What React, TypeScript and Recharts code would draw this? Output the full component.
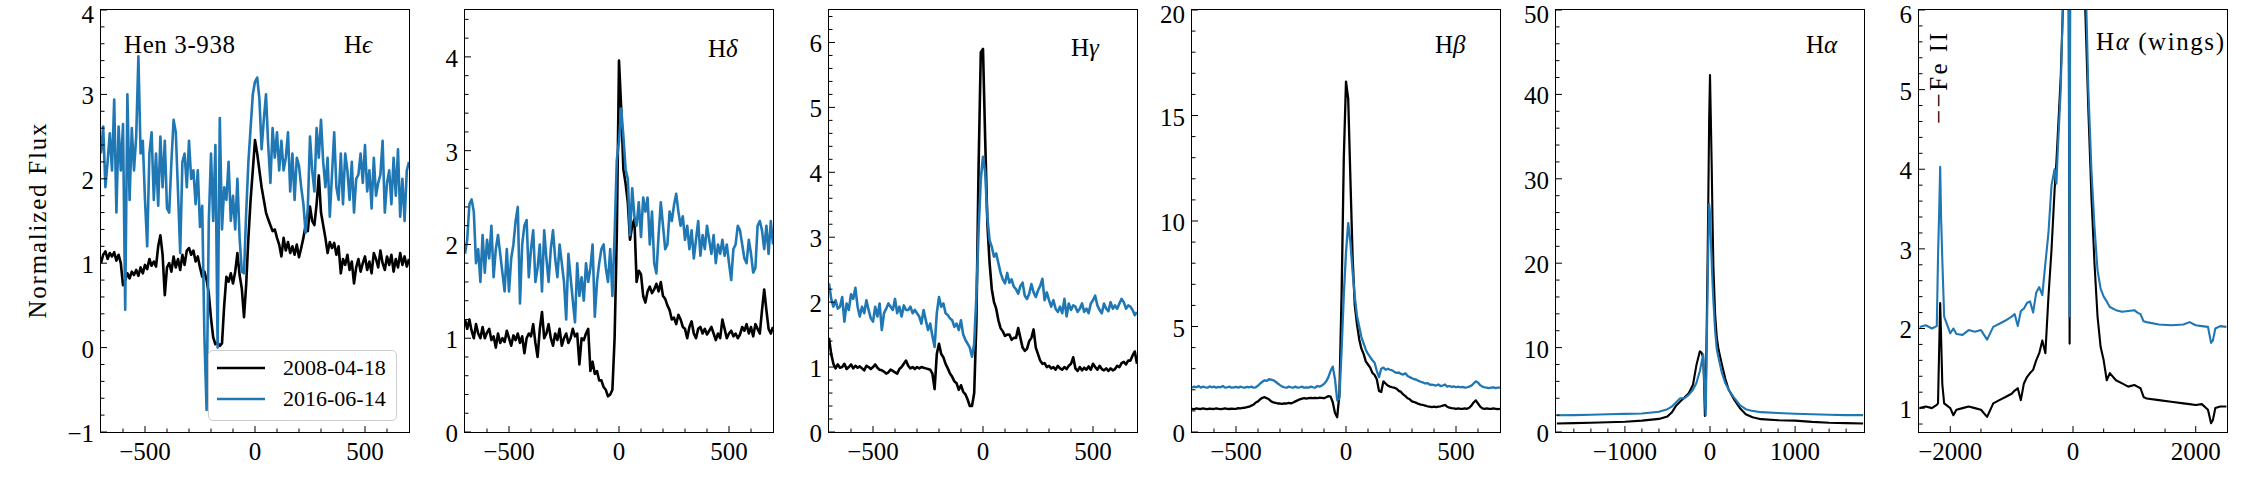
import React from "react";
import { LineChart, Line, XAxis, YAxis, Legend } from "recharts";

const SERIF = '"Liberation Serif", "DejaVu Serif", "Times New Roman", serif';
const BLACK = "#000000";
const BLUE = "#1f77b4";

const PLOT_TOP = 10;
const PLOT_W = 308;
const PLOT_H = 422;
const AXIS_W = 60;
const AXIS_H = 44;
const PAD_TOP = 16;
const PAD_RIGHT = 4;

const dates = ["2008-04-18", "2016-06-14"];

// velocity grid (km/s) shared by the Heps..Hbeta panels
const velocity = [
  -700, -690, -680, -670, -660, -650, -640, -630, -620, -610,
  -600, -590, -580, -570, -560, -550, -540, -530, -520, -510,
  -500, -490, -480, -470, -460, -450, -440, -430, -420, -410,
  -400, -390, -380, -370, -360, -350, -340, -330, -320, -310,
  -300, -290, -280, -270, -260, -250, -240, -230, -220, -210,
  -200, -190, -180, -170, -160, -150, -140, -130, -120, -110,
  -100, -90, -80, -70, -60, -50, -40, -30, -20, -10,
  0, 10, 20, 30, 40, 50, 60, 70, 80, 90,
  100, 110, 120, 130, 140, 150, 160, 170, 180, 190,
  200, 210, 220, 230, 240, 250, 260, 270, 280, 290,
  300, 310, 320, 330, 340, 350, 360, 370, 380, 390,
  400, 410, 420, 430, 440, 450, 460, 470, 480, 490,
  500, 510, 520, 530, 540, 550, 560, 570, 580, 590,
  600, 610, 620, 630, 640, 650, 660, 670, 680, 690,
  700,
];

const hEps2008 = [
  1.0, 1.1, 1.14, 1.05, 1.12, 1.08, 1.13, 1.03, 1.1, 1.0,
  0.74, 0.8, 0.88, 0.82, 0.9, 0.86, 0.92, 0.85, 0.95, 0.88,
  0.98, 0.93, 1.05, 0.97, 1.02, 0.96, 1.2, 1.33, 1.1, 0.62,
  0.95, 1.0, 0.9, 1.08, 0.95, 1.05, 0.92, 1.1, 0.98, 1.15,
  1.18, 1.1, 1.15, 1.02, 1.08, 0.95, 0.84, 0.9, 0.8, 0.64,
  0.35, 0.12, 0.04, 0.06, 0.02, 0.05, 0.5, 0.84, 0.78, 0.88,
  0.76, 0.9, 1.12, 0.86, 0.7, 0.36, 0.75, 1.3, 1.75, 2.1,
  2.46, 2.3, 2.1, 1.9, 1.75, 1.6, 1.52, 1.45, 1.38, 1.4,
  1.3, 1.22, 1.08, 1.3, 1.15, 1.25, 1.12, 1.2, 1.1, 1.22,
  1.07, 1.18, 1.3, 1.45, 1.38, 1.67, 1.5, 1.45, 1.7, 2.04,
  1.6, 1.45, 1.3, 1.12, 1.25, 1.18, 1.24, 1.1, 1.2, 0.88,
  1.05, 0.98, 1.1, 0.92, 1.02, 0.76, 0.95, 1.05, 0.9, 1.0,
  1.08, 0.92, 1.02, 0.88, 1.12, 1.05, 0.95, 1.15, 1.0, 0.92,
  1.08, 0.98, 1.1, 0.9, 1.05, 0.95, 1.12, 0.98, 1.08, 0.96,
  1.05,
];

const hEps2016 = [
  2.3, 2.62, 1.9, 2.2, 2.54, 2.1, 2.94, 1.6, 2.62, 2.1,
  2.65, 0.45, 3.0, 1.75, 2.6, 2.1, 2.5, 3.45, 2.3, 2.45,
  1.75, 1.2, 2.3, 2.55, 1.75, 2.3, 1.68, 2.5, 1.9, 2.45,
  1.65, 1.6, 2.2, 2.7, 2.55, 1.85, 1.12, 2.2, 2.3, 1.9,
  2.45, 2.0, 2.1, 1.7, 2.1, 1.43, 1.68, 0.13, -0.74, 1.5,
  2.3, 1.5, 2.4, 0.0, 2.72, 1.4, 1.9, 1.75, 2.2, 1.5,
  1.8, 1.4, 2.0, 1.3, 0.9, 0.88, 1.6, 2.2, 2.6, 3.0,
  3.15, 3.2, 2.95, 2.35, 2.7, 3.0, 2.4, 1.95, 2.6, 2.25,
  2.55, 2.1, 2.45, 2.1, 2.25, 2.55, 1.85, 2.3, 1.75, 2.25,
  2.15, 1.9, 1.7, 1.36, 1.65, 2.5, 2.1, 1.85, 2.6, 2.25,
  2.7, 2.2, 1.9, 2.25, 1.55, 2.05, 2.55, 1.9, 1.75, 2.3,
  1.7, 2.3, 2.1, 1.75, 2.2, 1.6, 2.0, 2.05, 2.3, 1.95,
  2.4, 1.85, 2.1, 1.65, 2.25, 1.8, 1.95, 2.05, 2.45, 1.6,
  1.95, 2.1, 1.7, 2.25, 1.8, 2.35, 1.55, 2.0, 1.5, 2.1,
  2.2,
];

const hDelta2008 = [
  1.2, 1.1, 1.2, 1.08, 1.0, 1.15, 1.05, 1.0, 1.12, 1.0,
  1.06, 1.1, 0.98, 1.02, 0.9, 1.05, 0.95, 1.0, 0.96, 1.08,
  1.0, 0.92, 1.03, 0.98, 1.05, 0.95, 1.02, 0.84, 1.0, 1.05,
  1.02, 1.15, 0.95, 0.8, 1.1, 1.28, 1.0, 1.05, 1.15, 1.0,
  0.92, 1.05, 0.98, 1.1, 0.92, 1.0, 1.05, 0.95, 1.0, 1.1,
  1.02, 1.05, 0.72, 1.0, 0.98, 1.05, 1.1, 0.65, 0.75, 0.62,
  0.65, 0.55, 0.55, 0.48, 0.45, 0.38, 0.4, 0.45, 1.0, 2.1,
  3.96, 3.45, 2.8, 2.65, 2.45, 2.05, 2.2, 2.27, 1.6, 1.72,
  1.68, 1.45, 1.38, 1.5, 1.55, 1.48, 1.52, 1.58, 1.5, 1.6,
  1.45, 1.42, 1.35, 1.3, 1.2, 1.22, 1.15, 1.25, 1.2, 1.12,
  1.1, 1.0, 1.12, 1.18, 1.05, 1.0, 1.1, 1.12, 1.05, 1.1,
  1.04, 1.08, 1.12, 1.05, 0.98, 1.05, 1.0, 1.2, 1.1, 1.0,
  1.05, 1.08, 1.02, 1.05, 1.0, 1.04, 1.12, 1.08, 1.15, 1.05,
  1.12, 1.02, 1.15, 1.1, 1.05, 1.3, 1.52, 1.3, 1.1, 1.05,
  1.12,
];

const hDelta2016 = [
  1.9, 2.05, 2.43, 2.48, 2.35, 1.8, 1.95, 1.6, 2.1, 1.7,
  2.05, 1.85, 2.2, 1.65, 1.95, 2.1, 1.9, 1.7, 1.5, 1.95,
  1.5, 1.85, 2.0, 2.25, 2.4, 1.37, 2.0, 2.2, 2.26, 1.65,
  1.95, 2.15, 1.6, 1.75, 2.0, 1.5, 2.15, 1.85, 1.6, 1.95,
  2.15, 1.85, 1.65, 2.0, 1.8, 1.6, 1.2, 1.9, 1.65, 1.4,
  1.17, 1.8, 1.45, 1.65, 1.4, 1.8, 1.6, 1.75, 2.0, 1.23,
  1.6, 1.8, 1.95, 2.0, 1.75, 1.6, 1.95, 1.45, 2.1, 2.9,
  3.1, 3.45, 3.15, 2.8, 2.7, 2.1, 2.6, 2.3, 2.2, 2.45,
  2.08, 2.5, 2.35, 2.5, 2.0, 2.35, 1.8, 1.69, 2.1, 2.45,
  2.2, 1.95, 2.0, 2.35, 2.25, 2.42, 2.54, 2.35, 2.2, 2.3,
  2.05, 2.2, 1.95, 2.15, 1.85, 2.05, 2.25, 1.88, 2.1, 1.95,
  2.2, 2.05, 1.9, 2.1, 1.8, 2.0, 1.9, 2.05, 1.88, 2.0,
  1.8, 1.62, 1.95, 2.0, 2.2, 2.15, 2.0, 1.85, 1.8, 2.05,
  1.9, 1.7, 1.75, 2.2, 2.25, 2.15, 1.95, 2.2, 1.9, 2.25,
  2.0,
];

const hGamma2008 = [
  1.45, 1.2, 1.05, 0.98, 1.04, 0.99, 1.0, 1.05, 0.97, 1.0,
  1.04, 0.98, 1.02, 0.99, 1.01, 0.98, 0.95, 1.02, 1.0, 0.97,
  1.0, 1.04, 0.99, 0.96, 0.95, 0.93, 0.9, 0.92, 0.96, 0.94,
  0.92, 0.9, 0.97, 1.0, 1.05, 1.1, 1.02, 0.98, 1.0, 0.97,
  1.0, 0.98, 1.0, 0.99, 0.98, 0.97, 0.96, 0.9, 0.66, 1.2,
  1.36, 1.2, 1.15, 1.05, 0.98, 0.9, 0.85, 0.78, 0.75, 0.65,
  0.72, 0.62, 0.58, 0.5, 0.4, 0.4, 0.6, 1.7, 4.1, 5.85,
  5.9, 4.5, 3.2, 2.6, 2.2, 2.0, 1.9, 1.72, 1.6, 1.55,
  1.48, 1.5, 1.5, 1.42, 1.45, 1.45, 1.6, 1.45, 1.3, 1.25,
  1.28, 1.4, 1.45, 1.58, 1.3, 1.2, 1.1, 1.05, 1.06, 1.0,
  1.02, 0.98, 1.0, 0.96, 1.02, 0.98, 0.96, 1.0, 0.97, 1.02,
  1.05, 1.15, 0.98, 0.94, 1.0, 0.95, 0.99, 0.96, 1.01, 0.96,
  1.05, 1.0, 0.96, 1.02, 0.97, 0.95, 0.98, 0.94, 0.98, 0.95,
  0.97, 1.02, 1.0, 1.06, 1.08, 1.04, 1.1, 1.1, 1.18, 1.24,
  1.05,
];

const hGamma2016 = [
  2.29, 2.05, 1.93, 2.03, 1.9, 1.93, 2.08, 1.7, 1.98, 1.88,
  2.12, 2.05, 2.22, 1.93, 1.78, 1.93, 1.83, 2.03, 1.88, 1.75,
  1.7, 1.93, 1.78, 1.98, 1.57, 1.83, 1.9, 1.98, 1.93, 1.88,
  2.05, 1.83, 1.93, 1.78, 1.95, 1.88, 1.88, 1.93, 1.83, 1.88,
  1.83, 1.78, 1.67, 1.88, 1.72, 1.57, 1.67, 1.48, 1.31, 1.83,
  2.08, 1.93, 1.98, 1.83, 1.8, 1.75, 1.72, 1.62, 1.67, 1.57,
  1.72, 1.5, 1.42, 1.36, 1.3, 1.16, 1.36, 2.1, 3.1, 3.9,
  4.24, 4.0, 3.3, 2.95, 2.85, 2.7, 2.75, 2.6, 2.45, 2.35,
  2.29, 2.45, 2.3, 2.35, 2.24, 2.2, 2.13, 2.25, 2.3, 2.1,
  2.05, 2.13, 2.28, 2.15, 2.08, 2.18, 2.25, 2.36, 2.03, 2.15,
  2.03, 1.93, 2.03, 1.9, 1.85, 1.93, 1.83, 2.05, 1.78, 1.98,
  1.88, 1.95, 1.93, 1.85, 1.9, 1.98, 1.85, 1.9, 1.83, 1.98,
  2.03, 2.1, 1.95, 1.88, 1.83, 1.98, 1.9, 1.86, 2.0, 1.9,
  1.95, 1.9, 1.98, 2.05, 2.0, 1.9, 1.95, 1.93, 1.88, 1.8,
  1.85,
];

const hBeta2008 = [
  1.1, 1.08, 1.12, 1.1, 1.09, 1.12, 1.1, 1.08, 1.11, 1.1,
  1.09, 1.12, 1.1, 1.08, 1.1, 1.12, 1.1, 1.09, 1.11, 1.1,
  1.1, 1.13, 1.12, 1.14, 1.15, 1.18, 1.2, 1.25, 1.3, 1.4,
  1.45, 1.55, 1.62, 1.65, 1.6, 1.55, 1.45, 1.4, 1.38, 1.35,
  1.35, 1.33, 1.36, 1.35, 1.38, 1.36, 1.4, 1.45, 1.5, 1.55,
  1.58, 1.6, 1.58, 1.6, 1.62, 1.6, 1.62, 1.6, 1.63, 1.62,
  1.6, 1.65, 1.7, 1.68, 1.4, 0.9, 0.7, 1.8, 6.5, 13.0,
  16.6, 15.8, 12.0, 8.3, 6.0, 5.1, 4.4, 3.95, 3.7, 3.35,
  3.2, 3.05, 2.8, 2.7, 2.5, 1.95, 1.9, 2.4, 2.3, 2.2,
  2.15, 2.12, 2.1, 2.05, 1.95, 1.9, 1.78, 1.7, 1.6, 1.55,
  1.45, 1.42, 1.38, 1.33, 1.3, 1.28, 1.25, 1.22, 1.2, 1.18,
  1.2, 1.18, 1.2, 1.22, 1.25, 1.28, 1.2, 1.15, 1.13, 1.12,
  1.1, 1.12, 1.1, 1.1, 1.12, 1.1, 1.15, 1.25, 1.4, 1.5,
  1.35, 1.2, 1.12, 1.1, 1.12, 1.1, 1.1, 1.12, 1.1, 1.08,
  1.1,
];

const hBeta2016 = [
  2.1, 2.15, 2.12, 2.18, 2.1, 2.15, 2.12, 2.1, 2.16, 2.12,
  2.15, 2.1, 2.14, 2.12, 2.18, 2.1, 2.12, 2.15, 2.1, 2.12,
  2.14, 2.1, 2.15, 2.12, 2.1, 2.14, 2.12, 2.15, 2.1, 2.12,
  2.2, 2.3, 2.38, 2.45, 2.42, 2.5, 2.48, 2.45, 2.38, 2.3,
  2.22, 2.15, 2.12, 2.1, 2.15, 2.12, 2.1, 2.15, 2.1, 2.12,
  2.15, 2.1, 2.12, 2.1, 2.15, 2.12, 2.1, 2.18, 2.15, 2.2,
  2.28, 2.4, 2.6, 2.9, 3.1, 2.5, 1.5, 1.6, 3.9, 6.5,
  8.5, 9.9, 9.0, 7.6, 6.4, 5.5, 5.0, 4.5, 4.2, 3.9,
  3.7, 3.55, 3.4, 3.28, 2.9, 2.6, 3.0, 3.05, 2.95, 3.0,
  2.95, 2.92, 2.85, 2.8, 2.82, 2.75, 2.72, 2.78, 2.65, 2.6,
  2.55, 2.5, 2.48, 2.42, 2.38, 2.35, 2.3, 2.32, 2.25, 2.24,
  2.22, 2.2, 2.25, 2.18, 2.2, 2.25, 2.15, 2.18, 2.14, 2.16,
  2.12, 2.15, 2.12, 2.14, 2.1, 2.12, 2.15, 2.2, 2.3, 2.4,
  2.35, 2.22, 2.15, 2.12, 2.1, 2.08, 2.1, 2.12, 2.08, 2.1,
  2.1,
];

// H-alpha core
const hAlphaVel = [
  -1800, -1600, -1400, -1200, -1000, -800, -600, -500, -450, -400,
  -350, -300, -250, -200, -160, -120, -100, -80, -70, -60,
  -50, -40, -30, -20, -10, 0, 10, 20, 30, 40,
  60, 80, 100, 140, 180, 220, 280, 350, 420, 500,
  600, 800, 1000, 1200, 1400, 1600, 1800,
];
const hAlpha2008 = [
  1.0, 1.05, 1.1, 1.15, 1.22, 1.35, 1.55, 1.85, 2.3, 3.1,
  3.6, 4.1, 4.6, 5.6, 7.9, 9.55, 9.4, 8.8, 6.0, 1.9,
  4.0, 11.5, 19, 27.5, 37, 42.3, 37, 31.5, 25, 19.6,
  14, 11.2, 9.8, 8.0, 6.3, 5.0, 3.9, 2.85, 2.1, 1.75,
  1.52, 1.4, 1.35, 1.2, 1.1, 1.05, 1.0,
];
const hAlpha2016 = [
  1.98, 2.0, 2.05, 2.1, 2.15, 2.2, 2.4, 2.7, 3.0, 3.5,
  4.0, 4.0, 4.4, 5.0, 5.8, 7.2, 8.2, 9.2, 6.5, 3.5,
  2.0, 9.0, 15.7, 22, 27, 26, 23, 20, 17.5, 15.5,
  12, 9.8, 8.8, 7.0, 5.8, 5.0, 4.1, 3.2, 2.7, 2.5,
  2.35, 2.25, 2.17, 2.1, 2.05, 2.0, 2.0,
];

// H-alpha wings
const wingVel = [
  -2500, -2400, -2300, -2220, -2200, -2180, -2165, -2150, -2130, -2100,
  -2000, -1950, -1900, -1800, -1700, -1600, -1500, -1400, -1300, -1200,
  -1100, -1000, -950, -900, -850, -800, -750, -700, -650, -600,
  -550, -500, -450, -400, -350, -300, -270, -250, -200, -150,
  -100, -70, -55, -40, 0, 50, 100, 150, 200, 250,
  280, 300, 350, 400, 450, 500, 550, 600, 700, 800,
  900, 1000, 1050, 1100, 1150, 1200, 1400, 1600, 1800, 1900,
  2000, 2100, 2200, 2250, 2280, 2320, 2400, 2500,
];
const wing2008 = [
  1.0, 1.02, 1.0, 1.04, 1.06, 1.8, 2.32, 1.9, 1.3, 1.06,
  1.0, 0.91, 0.98, 1.0, 1.02, 1.0, 0.98, 0.89, 1.06, 1.1,
  1.14, 1.18, 1.22, 1.25, 1.1, 1.31, 1.39, 1.44, 1.48, 1.6,
  1.69, 1.85, 1.69, 2.4, 2.99, 3.74, 4.1, 4.4, 5.16, 6.4,
  9.4, 6.0, 1.81, 11.5, 42.3, 16, 9.8, 7.5, 6.0, 4.74,
  4.1, 3.66, 2.82, 2.15, 1.77, 1.6, 1.35, 1.44, 1.35, 1.31,
  1.27, 1.29, 1.27, 1.25, 1.14, 1.12, 1.1, 1.08, 1.06, 1.05,
  1.04, 1.05, 0.98, 0.81, 0.85, 1.0, 1.02, 1.02,
];
const wing2016 = [
  2.02, 2.04, 2.0, 2.03, 2.9, 3.5, 4.03, 3.4, 2.86, 2.15,
  1.94, 2.0, 1.93, 1.92, 1.98, 1.96, 1.98, 1.86, 2.02, 2.06,
  2.1, 2.15, 2.18, 2.03, 2.22, 2.25, 2.32, 2.34, 2.2, 2.45,
  2.52, 2.42, 2.82, 3.2, 3.8, 4.0, 3.82, 4.2, 5.0, 6.5,
  8.2, 6.5, 2.15, 9.0, 26, 13, 8.8, 7.4, 6.6, 5.0,
  4.41, 3.99, 3.28, 2.73, 2.5, 2.4, 2.34, 2.27, 2.23, 2.21,
  2.22, 2.23, 2.2, 2.18, 2.09, 2.08, 2.05, 2.04, 2.05, 2.08,
  2.04, 2.03, 2.02, 1.82, 1.85, 2.0, 2.03, 2.02,
];

// ticks
const velTicks = [-600, -500, -400, -300, -200, -100, 0, 100, 200, 300, 400, 500, 600];
const velMajor = [-500, 0, 500];
const hAlphaTicks = [-1600, -1400, -1200, -1000, -800, -600, -400, -200, 0, 200, 400, 600, 800, 1000, 1200, 1400, 1600];
const hAlphaMajor = [-1000, 0, 1000];
const wingTicks = [-2000, -1500, -1000, -500, 0, 500, 1000, 1500, 2000];
const wingMajor = [-2000, 0, 2000];

const panelTitles = [
  { x: 124, y: 53, text: "Hen 3-938", greek: "", len: 111 },
  { x: 344, y: 53, text: "H", greek: "\u03f5", len: 0 },
  { x: 708, y: 57, text: "H", greek: "\u03b4", len: 0 },
  { x: 1071, y: 56, text: "H", greek: "\u03b3", len: 0 },
  { x: 1435, y: 53, text: "H", greek: "\u03b2", len: 0 },
  { x: 1806, y: 53, text: "H", greek: "\u03b1", len: 0 },
];

const fmt = (v: number) => (v < 0 ? `\u2212${Math.abs(v)}` : `${v}`);
const isMajor = (v: number, majors: number[]) => majors.some((m) => Math.abs(m - v) < 1e-6);
const withMinor = (from: number, to: number, step: number) => {
  const out: number[] = [];
  for (let i = 0; from + i * step <= to + 1e-9; i++) out.push(Math.round((from + i * step) * 1000) / 1000);
  return out;
};
const toPoints = (xs: number[], ys: number[]) => xs.map((v, i) => ({ v, f: ys[i] }));

const makeXTick = (majors: number[]) => (props: any) => {
  const { x, y, payload } = props;
  const major = isMajor(payload.value, majors);
  return (
    <g>
      <line x1={x} x2={x} y1={y} y2={y - (major ? 6 : 3.5)} stroke="#000" strokeWidth={1} />
      {major && (
        <text x={x} y={y + 28} textAnchor="middle" fontFamily={SERIF} fontSize={25} fill="#000">
          {fmt(payload.value)}
        </text>
      )}
    </g>
  );
};

// chart svg starts PAD_TOP above the plot; keep the topmost labels inside the page
const makeYTick = (majors: number[]) => (props: any) => {
  const { x, y, payload } = props;
  const major = isMajor(payload.value, majors);
  const ty = Math.max(y + 10, PAD_TOP + 13);
  return (
    <g>
      <line x1={x} x2={x + (major ? 6 : 3.5)} y1={y} y2={y} stroke="#000" strokeWidth={1} />
      {major && (
        <text x={x - 7} y={ty} textAnchor="end" fontFamily={SERIF} fontSize={25} fill="#000">
          {fmt(payload.value)}
        </text>
      )}
    </g>
  );
};

const renderLegend = (props: any) => {
  const items = props.payload || [];
  return (
    <div
      style={{
        width: 189,
        height: 71,
        boxSizing: "border-box",
        border: "1.5px solid #cccccc",
        borderRadius: 5,
        background: "rgba(255,255,255,0.8)",
        padding: "1px 0 0 8px",
      }}
    >
      {items.map((it: any) => (
        <div key={it.value} style={{ display: "flex", alignItems: "center", height: 31 }}>
          <svg width={48} height={6}>
            <line x1={0} x2={48} y1={3} y2={3} stroke={it.color} strokeWidth={2.7} />
          </svg>
          <span style={{ marginLeft: 18, fontSize: 22, fontFamily: SERIF, lineHeight: "31px", color: "#000" }}>
            {it.value}
          </span>
        </div>
      ))}
    </div>
  );
};

type SeriesDef = { name: string; xs: number[]; ys: number[]; color: string };
type PanelDef = {
  left: number;
  xDomain: [number, number];
  yDomain: [number, number];
  xTicks: number[];
  xMajor: number[];
  yTicks: number[];
  yMajor: number[];
  lineWidth: number;
  series: SeriesDef[];
  legend?: boolean;
};

const panels: PanelDef[] = [
  {
    left: 101, xDomain: [-700, 700], yDomain: [-1, 4], xTicks: velTicks, xMajor: velMajor,
    yTicks: withMinor(-1, 4, 0.2), yMajor: [-1, 0, 1, 2, 3, 4], lineWidth: 2.6, legend: true,
    series: [
      { name: dates[0], xs: velocity, ys: hEps2008, color: BLACK },
      { name: dates[1], xs: velocity, ys: hEps2016, color: BLUE },
    ],
  },
  {
    left: 465, xDomain: [-700, 700], yDomain: [0, 4.5], xTicks: velTicks, xMajor: velMajor,
    yTicks: withMinor(0, 4.4, 0.2), yMajor: [0, 1, 2, 3, 4], lineWidth: 2.6,
    series: [
      { name: dates[0], xs: velocity, ys: hDelta2008, color: BLACK },
      { name: dates[1], xs: velocity, ys: hDelta2016, color: BLUE },
    ],
  },
  {
    left: 829, xDomain: [-700, 700], yDomain: [0, 6.5], xTicks: velTicks, xMajor: velMajor,
    yTicks: withMinor(0, 6.4, 0.2), yMajor: [0, 1, 2, 3, 4, 5, 6], lineWidth: 2.6,
    series: [
      { name: dates[0], xs: velocity, ys: hGamma2008, color: BLACK },
      { name: dates[1], xs: velocity, ys: hGamma2016, color: BLUE },
    ],
  },
  {
    left: 1192, xDomain: [-700, 700], yDomain: [0, 20], xTicks: velTicks, xMajor: velMajor,
    yTicks: withMinor(0, 20, 1), yMajor: [0, 5, 10, 15, 20], lineWidth: 2.3,
    series: [
      { name: dates[0], xs: velocity, ys: hBeta2008, color: BLACK },
      { name: dates[1], xs: velocity, ys: hBeta2016, color: BLUE },
    ],
  },
  {
    left: 1556, xDomain: [-1810, 1810], yDomain: [0, 50], xTicks: hAlphaTicks, xMajor: hAlphaMajor,
    yTicks: withMinor(0, 50, 2), yMajor: [0, 10, 20, 30, 40, 50], lineWidth: 2.1,
    series: [
      { name: dates[0], xs: hAlphaVel, ys: hAlpha2008, color: BLACK },
      { name: dates[1], xs: hAlphaVel, ys: hAlpha2016, color: BLUE },
    ],
  },
  {
    left: 1919, xDomain: [-2510, 2510], yDomain: [0.7, 6], xTicks: wingTicks, xMajor: wingMajor,
    yTicks: withMinor(0.8, 6, 0.2), yMajor: [1, 2, 3, 4, 5, 6], lineWidth: 2.1,
    series: [
      { name: dates[0], xs: wingVel, ys: wing2008, color: BLACK },
      { name: dates[1], xs: wingVel, ys: wing2016, color: BLUE },
    ],
  },
];

function Panel({ p }: { p: PanelDef }) {
  const chartLeft = p.left - AXIS_W;
  const chartTop = PLOT_TOP - PAD_TOP;
  return (
    <>
      <div style={{ position: "absolute", left: chartLeft, top: chartTop }}>
        <LineChart
          width={AXIS_W + PLOT_W + PAD_RIGHT}
          height={PAD_TOP + PLOT_H + AXIS_H}
          margin={{ top: PAD_TOP, right: PAD_RIGHT, bottom: 0, left: 0 }}
        >
          <XAxis
            type="number"
            dataKey="v"
            domain={p.xDomain}
            allowDataOverflow
            ticks={p.xTicks}
            interval={0}
            tickSize={0}
            tickMargin={0}
            tickLine={false}
            axisLine={false}
            height={AXIS_H}
            tick={makeXTick(p.xMajor)}
          />
          <YAxis
            type="number"
            domain={p.yDomain}
            allowDataOverflow
            ticks={p.yTicks}
            interval={0}
            tickSize={0}
            tickMargin={0}
            tickLine={false}
            axisLine={false}
            width={AXIS_W}
            tick={makeYTick(p.yMajor)}
          />
          {p.series.map((s) => (
            <Line
              key={s.name}
              data={toPoints(s.xs, s.ys)}
              dataKey="f"
              name={s.name}
              type="linear"
              stroke={s.color}
              strokeWidth={p.lineWidth}
              strokeLinejoin="round"
              dot={false}
              activeDot={false}
              isAnimationActive={false}
            />
          ))}
          {p.legend && (
            <Legend
              layout="vertical"
              align="center"
              verticalAlign="middle"
              wrapperStyle={{ left: 208 - chartLeft, top: 350 - chartTop, width: 189, height: 71 }}
              content={renderLegend}
            />
          )}
        </LineChart>
      </div>
      <div
        style={{
          position: "absolute",
          left: p.left - 0.75,
          top: PLOT_TOP - 0.75,
          width: PLOT_W + 1.5,
          height: PLOT_H + 1.5,
          boxSizing: "border-box",
          border: "1.5px solid #000",
          pointerEvents: "none",
        }}
      />
    </>
  );
}

export default function App() {
  return (
    <div
      style={{
        position: "absolute",
        left: 0,
        top: 0,
        width: 2250,
        height: 482,
        background: "#fff",
        overflow: "hidden",
        fontFamily: SERIF,
      }}
    >
      {panels.map((p, i) => (
        <Panel key={i} p={p} />
      ))}
      <svg
        width={2250}
        height={482}
        style={{ position: "absolute", left: 0, top: 0, pointerEvents: "none" }}
        fontFamily={SERIF}
        fontSize={25}
      >
        <text transform="translate(46, 221) rotate(-90)" textAnchor="middle" textLength={195} fill="#000">
          Normalized Flux
        </text>
        {panelTitles.map((t) => (
          <text key={t.x} x={t.x} y={t.y} fill="#000" textLength={t.len || undefined}>
            {t.text}
            {t.greek && <tspan fontStyle="italic">{t.greek}</tspan>}
          </text>
        ))}
        <text x={2096} y={50} fill="#000" textLength={128}>
          H<tspan fontStyle="italic">{"\u03b1"}</tspan> (wings)
        </text>
        <text transform="translate(1947, 124) rotate(-90)" fill="#000" textLength={91}>
          {"\u2212\u2212Fe II"}
        </text>
      </svg>
    </div>
  );
}
